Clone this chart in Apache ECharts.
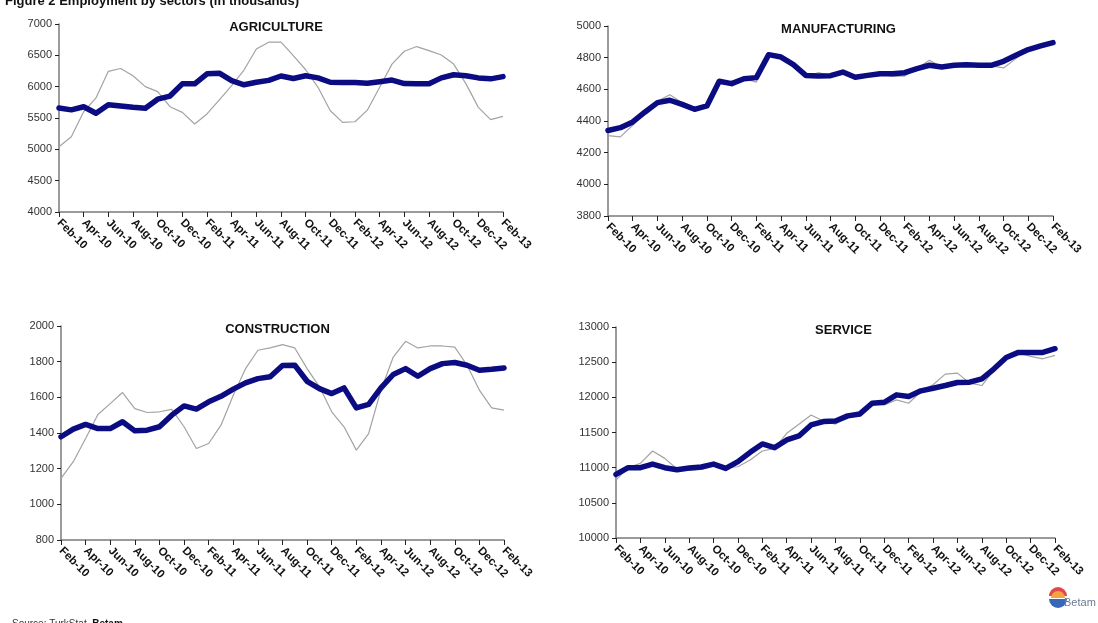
<!DOCTYPE html>
<html lang="en">
<head>
  <meta charset="UTF-8">
  <title>Employment by sectors</title>
  <style>
    html, body { margin: 0; padding: 0; background: #fff; }
    #chart { width: 1098px; height: 623px; }
  </style>
</head>
<body>
  <div id="chart"></div>
  <script src="https://cdn.jsdelivr.net/npm/echarts@6/dist/echarts.min.js"></script>
  <script>
    // monthly, Feb-10 .. Feb-13
    var months = ['Feb-10','Mar-10','Apr-10','May-10','Jun-10','Jul-10','Aug-10','Sep-10','Oct-10','Nov-10','Dec-10','Jan-11',
      'Feb-11','Mar-11','Apr-11','May-11','Jun-11','Jul-11','Aug-11','Sep-11','Oct-11','Nov-11','Dec-11','Jan-12',
      'Feb-12','Mar-12','Apr-12','May-12','Jun-12','Jul-12','Aug-12','Sep-12','Oct-12','Nov-12','Dec-12','Jan-13','Feb-13']

    // thick line = seasonally adjusted, thin grey = raw
    var agriSA = [5660,5630,5680,5575,5710,5690,5670,5655,5800,5850,6045,6045,6205,6215,6095,6030,6070,6100,6170,6130,6175,6140,6070,6065,6065,6055,6080,6105,6050,6045,6045,6140,6190,6175,6140,6125,6160]
    var agriRaw = [5040,5200,5600,5820,6245,6290,6175,6000,5920,5680,5590,5405,5565,5790,6015,6265,6600,6710,6710,6495,6270,5990,5615,5430,5440,5625,5990,6360,6565,6640,6575,6505,6360,6045,5670,5475,5525]

    var manuSA = [4340,4358,4394,4457,4516,4531,4505,4474,4495,4651,4636,4667,4674,4819,4804,4756,4688,4684,4686,4709,4676,4688,4699,4699,4705,4731,4752,4741,4752,4756,4752,4752,4777,4815,4851,4874,4895]
    var manuRaw = [4308,4300,4373,4453,4524,4566,4516,4467,4488,4657,4642,4667,4646,4819,4810,4762,4684,4705,4688,4712,4667,4688,4695,4684,4684,4731,4783,4741,4756,4768,4752,4748,4735,4794,4851,4874,4895]

    var consSA = [1379,1422,1448,1425,1425,1463,1412,1416,1435,1500,1552,1534,1575,1606,1646,1681,1705,1715,1778,1780,1690,1649,1621,1653,1541,1560,1653,1728,1761,1718,1761,1789,1795,1780,1752,1757,1765]
    var consRaw = [1145,1239,1369,1504,1565,1627,1537,1515,1519,1532,1435,1313,1341,1444,1612,1761,1864,1877,1896,1877,1761,1659,1519,1435,1304,1397,1640,1826,1914,1877,1888,1888,1882,1780,1640,1541,1528]

    var servSA = [10904,11000,11000,11051,11000,10971,10994,11009,11051,10990,11085,11218,11337,11284,11394,11451,11607,11655,11664,11736,11764,11916,11930,12035,12011,12092,12130,12168,12211,12216,12263,12406,12567,12639,12639,12639,12691]
    var servRaw = [10823,11000,11061,11237,11132,10980,10961,10975,11037,11000,11013,11108,11237,11275,11489,11617,11750,11664,11620,11726,11759,11902,11893,11964,11916,12083,12178,12330,12344,12202,12168,12390,12567,12630,12582,12548,12596]

    var panels = [
      { name: 'AGRICULTURE',   sa: agriSA, raw: agriRaw, min: 4000,  max: 7000,  step: 500, grid: { left: 59,  top: 24,  width: 444, height: 188 } },
      { name: 'MANUFACTURING', sa: manuSA, raw: manuRaw, min: 3800,  max: 5000,  step: 200, grid: { left: 608, top: 26,  width: 445, height: 190 } },
      { name: 'CONSTRUCTION',  sa: consSA, raw: consRaw, min: 800,   max: 2000,  step: 200, grid: { left: 61,  top: 326, width: 443, height: 214 } },
      { name: 'SERVICE',       sa: servSA, raw: servRaw, min: 10000, max: 13000, step: 500, grid: { left: 616, top: 327, width: 439, height: 211 } }
    ]

    var font = 'Liberation Sans, Arial, sans-serif'
    var grids = [], xAxes = [], yAxes = [], series = [], titles = []

    panels.forEach(function (p, i) {
      grids.push(p.grid)
      xAxes.push({
        type: 'category', gridIndex: i, data: months, boundaryGap: false,
        axisLine: { lineStyle: { color: '#7a7a7a', width: 1.5 } },
        axisTick: { interval: 1, length: 5, lineStyle: { color: '#222' } },
        axisLabel: { interval: 1, rotate: -45, color: '#111', fontFamily: font, fontWeight: 'bold', fontSize: 11.5, margin: 9 }
      })
      yAxes.push({
        type: 'value', gridIndex: i, min: p.min, max: p.max, interval: p.step,
        axisLine: { show: true, lineStyle: { color: '#7a7a7a', width: 1.5 } },
        axisTick: { show: true, length: 4, lineStyle: { color: '#222' } },
        splitLine: { show: false },
        axisLabel: { color: '#333', fontFamily: font, fontSize: 11, margin: 7, formatter: function (v) { return String(v) } }
      })
      series.push({
        type: 'line', xAxisIndex: i, yAxisIndex: i, data: p.raw, symbol: 'none',
        lineStyle: { color: '#a3a3a3', width: 1.2 }, z: 2
      })
      series.push({
        type: 'line', xAxisIndex: i, yAxisIndex: i, data: p.sa, symbol: 'none',
        lineStyle: { color: '#0c0c82', width: 5.5, cap: 'round', join: 'round' }, z: 3
      })
      titles.push({
        text: p.name,
        left: p.grid.left + p.grid.width / 2 + (i % 2 ? 3 : -10), top: p.grid.top - 8, textAlign: 'center',
        textStyle: { fontFamily: font, fontSize: 13, fontWeight: 'bold', color: '#111' }
      })
    })

    titles.push({
      text: 'Figure 2 Employment by sectors (in thousands)', left: 0, top: -10,
      textStyle: { fontFamily: font, fontSize: 13, fontWeight: 'bold', color: '#111' }
    })
    titles.push({
      text: 'Source: TurkStat, {b|Betam}', left: 7, top: 614,
      textStyle: { fontFamily: font, fontSize: 10, fontWeight: 'normal', color: '#333', rich: { b: { fontFamily: font, fontSize: 10, fontWeight: 'bold', color: '#111' } } }
    })

    var chart = echarts.init(document.getElementById('chart'), null, { renderer: 'canvas' })
    chart.setOption({
      animation: false,
      backgroundColor: '#fff',
      title: titles,
      grid: grids,
      xAxis: xAxes,
      yAxis: yAxes,
      series: series,
      graphic: [
        // small Betam logo, bottom right
        { type: 'sector', shape: { cx: 1058, cy: 596, r: 9, r0: 0, startAngle: Math.PI, endAngle: Math.PI * 2 }, style: { fill: '#e2474b' } },
        { type: 'sector', shape: { cx: 1058, cy: 598, r: 7, r0: 0, startAngle: Math.PI, endAngle: Math.PI * 2 }, style: { fill: '#f4a340' } },
        { type: 'sector', shape: { cx: 1058, cy: 599, r: 9, r0: 0, startAngle: 0, endAngle: Math.PI }, style: { fill: '#3a66b8' } },
        { type: 'text', left: 1064, top: 597, style: { text: 'Betam', font: '11px ' + font, fill: '#6b7a90' } }
      ]
    })
  </script>
</body>
</html>
